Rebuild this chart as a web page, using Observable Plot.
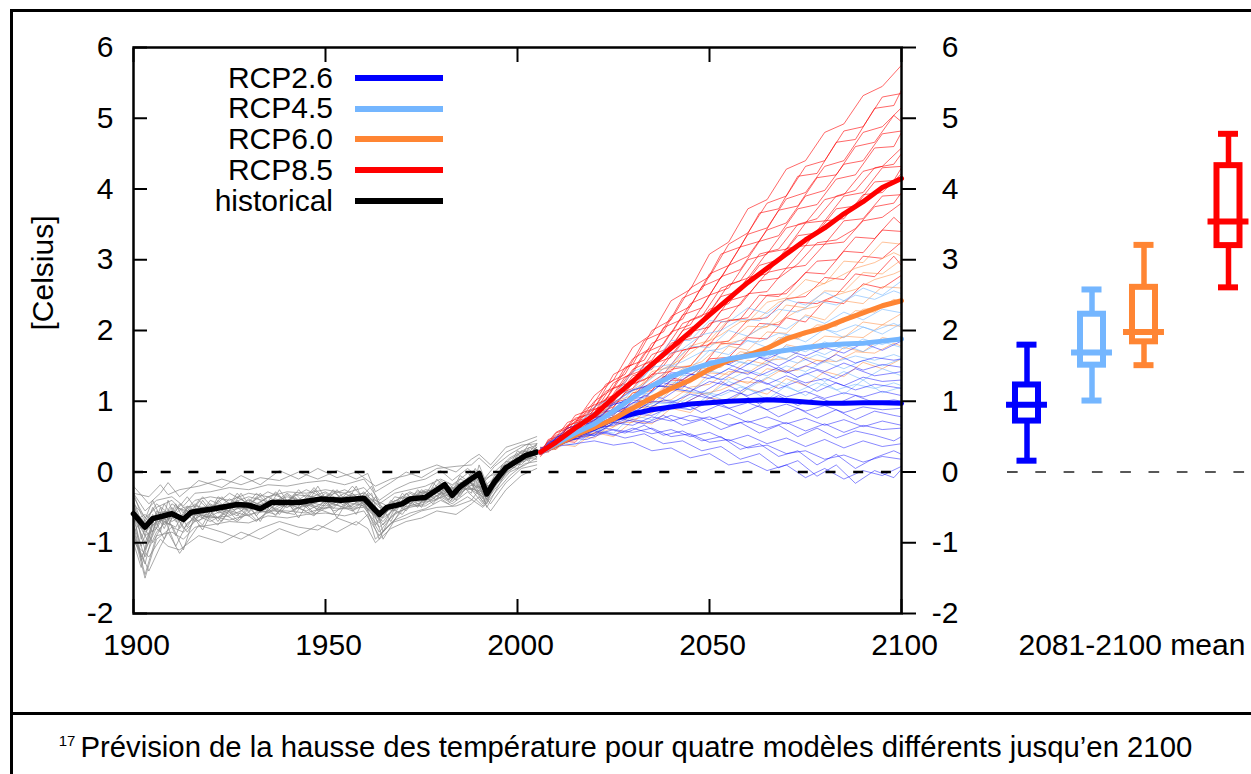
<!DOCTYPE html>
<html><head><meta charset="utf-8">
<script src="https://cdn.jsdelivr.net/npm/d3@7"></script>
<script src="https://cdn.jsdelivr.net/npm/@observablehq/plot@0.6"></script>
<style>
html,body{margin:0;padding:0;background:#fff;overflow:hidden;}
#wrap{position:relative;width:1251px;height:774px;overflow:hidden;font-family:"Liberation Sans",Arial,Helvetica,sans-serif;color:#000;}
#border{position:absolute;left:10px;top:9px;width:1400px;height:900px;border:3px solid #000;box-sizing:border-box;}
#divider{position:absolute;left:10px;top:712px;width:1400px;height:3px;background:#000;}
#left,#right{position:absolute;top:0;}
#left{left:0;width:965px;} #right{left:965px;width:320px;}
#left svg,#right svg{max-width:none;}
#legend{position:absolute;left:0;top:62.6px;}
.row{display:flex;align-items:center;height:30.75px;}
.lab{width:333px;text-align:right;font-size:30px;line-height:30.75px;white-space:nowrap;}
.sw{margin-left:22px;width:88px;height:6px;}
#caption{position:absolute;left:0;top:732px;width:1251px;text-align:center;font-size:29.3px;line-height:29px;white-space:nowrap;}
#caption sup{font-size:15px;vertical-align:baseline;position:relative;top:-11px;margin-right:5px;}
</style></head>
<body>
<div id="wrap">
  <div id="border"></div>
  <div id="divider"></div>
  <div id="left"></div>
  <div id="right"></div>
  <div id="legend"></div>
  <div id="caption"><sup>17</sup>Prévision de la hausse des température pour quatre modèles différents jusqu’en 2100</div>
</div>
<script>
// ---------- data ----------
const xTicks = [1900, 1950, 2000, 2050, 2100];
const yTicks = [-2, -1, 0, 1, 2, 3, 4, 5, 6];
const legendNames = ["RCP2.6", "RCP4.5", "RCP6.0", "RCP8.5", "historical"];
const scenarios = ["RCP2.6", "RCP4.5", "RCP6.0", "RCP8.5"];

// historical ensemble mean
const histMeanYears = [1900,1903,1905,1910,1913,1915,1921,1927,1930,1933,1936,1943,1949,1954,1960,1964,1966,1970,1972,1976,1981,1983,1985,1990,1992,1994,1997,2000,2002,2005];
const histMean = [-0.59,-0.78,-0.66,-0.59,-0.67,-0.57,-0.52,-0.46,-0.47,-0.52,-0.43,-0.43,-0.38,-0.40,-0.37,-0.60,-0.50,-0.45,-0.38,-0.36,-0.18,-0.33,-0.21,-0.02,-0.31,-0.14,0.06,0.16,0.23,0.28];

// historical members (three sampling grids)
const histYears = [1900,1903,1906,1910,1913,1916,1920,1925,1930,1935,1940,1945,1950,1955,1960,1964,1968,1972,1976,1980,1983,1987,1991,1994,1998,2002,2005];
const histMembers = [
  [-0.30,-0.55,-0.40,-0.35,-0.48,-0.30,-0.28,-0.22,-0.25,-0.18,-0.20,-0.15,-0.12,-0.18,-0.10,-0.40,-0.25,-0.15,-0.10,0.02,-0.12,0.05,-0.12,0.08,0.25,0.38,0.45],
  [-0.80,-1.45,-0.90,-0.85,-0.95,-0.78,-0.75,-0.70,-0.72,-0.62,-0.65,-0.60,-0.58,-0.62,-0.55,-0.90,-0.68,-0.58,-0.52,-0.40,-0.48,-0.35,-0.50,-0.30,-0.05,0.12,0.15],
  [-0.50,-1.10,-0.55,-0.70,-0.60,-0.45,-0.60,-0.38,-0.55,-0.35,-0.50,-0.32,-0.45,-0.30,-0.45,-0.72,-0.40,-0.45,-0.28,-0.30,-0.22,-0.25,-0.20,-0.18,0.15,0.20,0.32],
  [-0.70,-0.60,-0.75,-0.50,-0.80,-0.62,-0.45,-0.60,-0.38,-0.55,-0.32,-0.50,-0.30,-0.48,-0.28,-0.50,-0.55,-0.30,-0.42,-0.15,-0.38,-0.10,-0.38,-0.05,0.05,0.30,0.22],
  [-0.45,-0.90,-0.80,-0.45,-0.55,-0.70,-0.40,-0.52,-0.40,-0.50,-0.30,-0.48,-0.35,-0.25,-0.40,-0.65,-0.35,-0.40,-0.25,-0.28,-0.35,-0.08,-0.42,-0.15,0.12,0.15,0.35],
  [-0.95,-1.30,-0.65,-0.75,-1.10,-0.60,-0.70,-0.55,-0.62,-0.48,-0.58,-0.45,-0.52,-0.42,-0.48,-0.85,-0.58,-0.50,-0.45,-0.30,-0.42,-0.22,-0.35,-0.20,0.02,0.18,0.22],
  [-0.55,-0.70,-0.45,-0.62,-0.50,-0.48,-0.52,-0.30,-0.45,-0.28,-0.40,-0.25,-0.38,-0.35,-0.30,-0.55,-0.42,-0.28,-0.38,-0.12,-0.25,-0.18,-0.22,-0.08,0.18,0.30,0.25],
  [-0.62,-1.00,-0.58,-0.55,-0.72,-0.52,-0.48,-0.45,-0.35,-0.42,-0.50,-0.38,-0.28,-0.45,-0.35,-0.60,-0.48,-0.35,-0.30,-0.25,-0.30,-0.12,-0.28,-0.10,0.08,0.25,0.30],
  [-0.40,-0.85,-0.70,-0.65,-0.62,-0.55,-0.62,-0.50,-0.52,-0.45,-0.35,-0.42,-0.48,-0.38,-0.42,-0.68,-0.45,-0.42,-0.32,-0.20,-0.28,-0.20,-0.32,-0.12,0.12,0.22,0.40],
  [-0.75,-1.20,-0.85,-0.60,-0.68,-0.58,-0.65,-0.62,-0.50,-0.58,-0.45,-0.55,-0.42,-0.50,-0.40,-0.95,-0.52,-0.40,-0.38,-0.22,-0.40,-0.18,-0.45,-0.20,0.05,0.20,0.18],
  [-0.35,-0.65,-0.50,-0.40,-0.58,-0.40,-0.35,-0.40,-0.30,-0.35,-0.28,-0.30,-0.25,-0.30,-0.22,-0.45,-0.30,-0.25,-0.20,-0.10,-0.18,-0.02,-0.15,0.00,0.20,0.32,0.38],
  [-0.85,-1.50,-0.95,-0.78,-0.85,-0.70,-0.62,-0.68,-0.60,-0.55,-0.55,-0.58,-0.50,-0.52,-0.50,-0.78,-0.60,-0.48,-0.48,-0.35,-0.45,-0.28,-0.48,-0.25,0.00,0.10,0.20]
];
const histYearsB = [1900,1902,1905,1908,1911,1914,1918,1922,1927,1932,1937,1942,1947,1952,1957,1962,1965,1970,1974,1978,1982,1985,1989,1992,1996,2000,2003,2005];
const histMembersB = [
  [-0.40,-0.95,-0.50,-0.80,-0.45,-0.78,-0.40,-0.70,-0.30,-0.62,-0.28,-0.55,-0.22,-0.52,-0.20,-0.50,-0.75,-0.30,-0.50,-0.15,-0.40,-0.05,-0.20,-0.45,0.10,0.05,0.35,0.30],
  [-0.75,-1.20,-0.90,-0.55,-0.90,-0.50,-0.82,-0.40,-0.68,-0.35,-0.62,-0.30,-0.58,-0.25,-0.55,-0.30,-0.85,-0.55,-0.25,-0.45,-0.15,-0.35,0.00,-0.50,-0.10,0.25,0.15,0.40],
  [-0.55,-0.80,-0.40,-0.75,-0.55,-0.35,-0.65,-0.48,-0.62,-0.30,-0.55,-0.60,-0.25,-0.55,-0.48,-0.20,-0.60,-0.40,-0.48,-0.22,-0.35,-0.30,0.05,-0.25,-0.10,0.30,0.20,0.25],
  [-1.00,-1.35,-0.75,-0.65,-1.05,-0.72,-0.60,-0.75,-0.40,-0.68,-0.50,-0.35,-0.60,-0.45,-0.30,-0.58,-0.70,-0.35,-0.42,-0.38,-0.20,-0.30,-0.15,-0.35,0.08,0.12,0.32,0.20],
  [-0.30,-0.60,-0.85,-0.45,-0.70,-0.65,-0.35,-0.58,-0.52,-0.45,-0.30,-0.52,-0.45,-0.28,-0.50,-0.38,-0.45,-0.60,-0.30,-0.25,-0.40,-0.10,-0.18,-0.28,0.05,0.20,0.22,0.35],
  [-0.65,-1.05,-0.60,-0.95,-0.50,-0.55,-0.75,-0.35,-0.50,-0.70,-0.45,-0.40,-0.50,-0.60,-0.35,-0.48,-0.95,-0.50,-0.45,-0.40,-0.32,-0.25,-0.12,-0.40,-0.05,0.10,0.28,0.25],
  [-0.85,-0.70,-1.00,-0.70,-0.78,-0.48,-0.62,-0.65,-0.35,-0.52,-0.60,-0.32,-0.35,-0.45,-0.55,-0.40,-0.50,-0.35,-0.45,-0.35,-0.28,-0.15,-0.10,-0.38,0.02,0.15,0.40,0.30],
  [-0.50,-1.25,-0.70,-0.60,-0.62,-0.85,-0.50,-0.55,-0.70,-0.48,-0.38,-0.48,-0.62,-0.35,-0.40,-0.55,-0.65,-0.45,-0.28,-0.30,-0.45,-0.22,-0.25,-0.30,-0.02,0.18,0.18,0.32]
];
const histYearsC = [1900,1904,1907,1909,1912,1917,1923,1928,1933,1938,1943,1948,1953,1958,1961,1963,1967,1971,1975,1979,1984,1988,1990,1993,1997,2001,2005];
const histMembersC = [
  [-0.20,-0.45,-0.30,-0.15,-0.35,-0.12,-0.22,-0.05,-0.18,0.02,-0.10,0.05,-0.08,0.00,-0.12,-0.20,-0.10,-0.05,0.02,0.10,0.00,0.18,0.25,0.10,0.35,0.42,0.50],
  [-0.30,-0.35,-0.18,-0.32,-0.25,-0.20,-0.10,-0.18,-0.08,-0.12,0.00,-0.10,0.02,-0.10,-0.02,-0.28,-0.15,0.00,-0.08,0.05,0.08,0.10,0.20,0.05,0.28,0.38,0.40],
  [-1.00,-1.20,-0.95,-1.05,-1.10,-0.90,-1.00,-0.85,-0.95,-0.80,-0.90,-0.75,-0.85,-0.70,-0.80,-1.00,-0.80,-0.70,-0.65,-0.55,-0.60,-0.45,-0.35,-0.55,-0.25,-0.05,0.05],
  [-0.90,-1.40,-1.05,-0.85,-1.15,-0.75,-0.85,-0.95,-0.80,-0.70,-0.78,-0.82,-0.65,-0.75,-0.60,-0.95,-0.72,-0.65,-0.55,-0.50,-0.48,-0.40,-0.25,-0.45,-0.15,0.05,0.10],
  [-0.60,-1.00,-0.50,-0.75,-0.45,-0.70,-0.35,-0.65,-0.30,-0.60,-0.25,-0.55,-0.25,-0.60,-0.30,-0.75,-0.40,-0.55,-0.25,-0.40,-0.15,-0.30,0.10,-0.30,0.15,0.10,0.35],
  [-0.45,-0.70,-0.85,-0.40,-0.80,-0.40,-0.70,-0.30,-0.70,-0.25,-0.65,-0.20,-0.65,-0.20,-0.55,-0.35,-0.70,-0.30,-0.50,-0.10,-0.40,0.00,-0.15,-0.05,0.00,0.30,0.25]
];

// projection years (two sampling grids)
const rcpYears = [2006,2010,2015,2020,2025,2030,2035,2040,2045,2050,2055,2060,2065,2070,2075,2080,2085,2090,2095,2100];
const rcpYearsB = [2006,2008,2013,2018,2023,2028,2033,2038,2043,2048,2053,2058,2063,2068,2073,2078,2083,2088,2093,2098,2100];

// ensemble means
const rcp26Mean = [0.28,0.38,0.52,0.62,0.75,0.82,0.88,0.92,0.96,0.98,1.00,1.01,1.02,1.01,0.99,0.97,0.97,0.98,0.98,0.97];
const rcp45Mean = [0.28,0.40,0.55,0.68,0.86,1.05,1.22,1.35,1.45,1.53,1.60,1.64,1.68,1.72,1.76,1.79,1.81,1.82,1.85,1.88];
const rcp60Mean = [0.28,0.38,0.52,0.63,0.75,0.90,1.05,1.18,1.30,1.45,1.58,1.65,1.75,1.88,1.97,2.04,2.15,2.25,2.35,2.42];
const rcp85Mean = [0.28,0.42,0.62,0.80,1.05,1.28,1.52,1.75,1.98,2.22,2.45,2.68,2.88,3.08,3.28,3.45,3.65,3.82,4.02,4.15];

// ensemble members
const rcp26Members = [
  [0.30,0.36,0.40,0.44,0.38,0.42,0.30,0.34,0.20,0.26,0.10,0.15,0.02,0.10,-0.08,0.05,-0.10,0.02,-0.05,0.08],
  [0.26,0.42,0.46,0.58,0.52,0.62,0.54,0.60,0.50,0.56,0.44,0.52,0.40,0.48,0.36,0.46,0.34,0.44,0.36,0.40],
  [0.32,0.36,0.56,0.52,0.70,0.66,0.78,0.72,0.80,0.74,0.82,0.70,0.78,0.68,0.76,0.66,0.74,0.64,0.72,0.66],
  [0.28,0.44,0.50,0.66,0.70,0.82,0.80,0.92,0.88,0.98,0.90,0.98,0.88,0.96,0.86,0.94,0.84,0.92,0.88,0.90],
  [0.30,0.40,0.60,0.64,0.86,0.84,1.00,0.98,1.10,1.04,1.16,1.08,1.18,1.06,1.14,1.04,1.12,1.06,1.14,1.08],
  [0.25,0.46,0.56,0.74,0.82,0.98,1.02,1.18,1.14,1.28,1.22,1.34,1.24,1.36,1.26,1.32,1.22,1.34,1.28,1.30],
  [0.34,0.38,0.66,0.70,0.96,1.02,1.22,1.20,1.38,1.32,1.46,1.38,1.52,1.40,1.50,1.42,1.54,1.44,1.52,1.48],
  [0.28,0.48,0.62,0.84,0.98,1.16,1.24,1.40,1.42,1.56,1.52,1.66,1.60,1.72,1.64,1.76,1.68,1.82,1.72,1.85],
  [0.30,0.40,0.50,0.52,0.60,0.56,0.62,0.50,0.54,0.42,0.46,0.34,0.38,0.26,0.30,0.18,0.24,0.14,0.22,0.18],
  [0.27,0.45,0.52,0.62,0.66,0.74,0.70,0.80,0.72,0.78,0.66,0.72,0.62,0.70,0.58,0.68,0.56,0.66,0.60,0.62]
];
const rcp26MembersB = [
  [0.30,0.38,0.44,0.50,0.62,0.55,0.66,0.52,0.58,0.44,0.50,0.32,0.40,0.22,0.30,0.10,0.25,0.05,0.20,0.30,0.25],
  [0.27,0.36,0.52,0.58,0.64,0.74,0.68,0.80,0.66,0.74,0.60,0.70,0.55,0.66,0.50,0.62,0.48,0.58,0.52,0.44,0.50],
  [0.32,0.30,0.55,0.62,0.78,0.74,0.94,0.86,0.98,0.84,0.96,0.82,0.94,0.78,0.90,0.76,0.88,0.74,0.86,0.80,0.78],
  [0.28,0.40,0.46,0.66,0.72,0.88,0.86,1.02,0.96,1.10,0.98,1.12,0.96,1.08,0.94,1.06,0.96,1.08,0.98,1.02,1.00],
  [0.30,0.34,0.58,0.64,0.86,0.90,1.08,1.04,1.22,1.12,1.28,1.14,1.30,1.18,1.28,1.14,1.26,1.16,1.24,1.20,1.18],
  [0.26,0.42,0.50,0.74,0.80,1.02,1.06,1.26,1.20,1.40,1.30,1.46,1.36,1.48,1.34,1.44,1.32,1.46,1.36,1.40,1.42],
  [0.30,0.36,0.48,0.46,0.56,0.48,0.54,0.40,0.44,0.30,0.36,0.18,0.26,0.06,0.16,-0.06,0.10,-0.16,0.02,-0.08,0.04],
  [0.32,0.38,0.62,0.70,0.92,1.00,1.20,1.22,1.40,1.36,1.56,1.46,1.62,1.50,1.64,1.52,1.66,1.54,1.62,1.58,1.60]
];
const rcp45Members = [
  [0.30,0.42,0.38,0.60,0.55,0.80,0.74,0.98,0.88,1.10,0.98,1.18,1.02,1.22,1.08,1.26,1.10,1.30,1.12,1.20],
  [0.26,0.45,0.46,0.66,0.70,0.94,0.96,1.18,1.14,1.34,1.30,1.44,1.36,1.50,1.42,1.56,1.46,1.58,1.50,1.60],
  [0.32,0.36,0.60,0.62,0.90,0.92,1.22,1.20,1.44,1.40,1.60,1.52,1.68,1.60,1.76,1.66,1.80,1.70,1.84,1.76],
  [0.28,0.48,0.52,0.78,0.86,1.16,1.22,1.50,1.46,1.72,1.66,1.86,1.76,1.94,1.84,2.02,1.90,2.05,1.95,2.10],
  [0.30,0.40,0.68,0.74,1.08,1.16,1.48,1.52,1.78,1.76,2.00,1.92,2.10,2.02,2.20,2.10,2.26,2.15,2.30,2.25],
  [0.27,0.50,0.62,0.92,1.06,1.42,1.52,1.86,1.86,2.14,2.12,2.32,2.24,2.44,2.36,2.54,2.42,2.60,2.50,2.70],
  [0.30,0.46,0.50,0.74,0.80,1.08,1.12,1.38,1.36,1.58,1.54,1.70,1.62,1.78,1.70,1.84,1.74,1.88,1.80,1.92],
  [0.34,0.34,0.54,0.52,0.76,0.76,0.98,0.96,1.14,1.10,1.28,1.18,1.34,1.24,1.40,1.28,1.42,1.30,1.46,1.36]
];
const rcp45MembersB = [
  [0.30,0.32,0.44,0.56,0.62,0.80,0.86,1.02,1.00,1.14,1.08,1.20,1.12,1.24,1.14,1.26,1.16,1.24,1.18,1.26,1.22],
  [0.28,0.40,0.46,0.66,0.76,0.98,1.04,1.28,1.26,1.44,1.40,1.56,1.50,1.62,1.54,1.66,1.56,1.64,1.58,1.66,1.62],
  [0.32,0.34,0.56,0.70,0.88,1.08,1.24,1.46,1.56,1.70,1.74,1.86,1.84,1.96,1.92,2.04,1.98,2.08,2.00,2.10,2.05],
  [0.26,0.42,0.54,0.78,0.94,1.20,1.36,1.64,1.74,1.94,2.00,2.16,2.14,2.30,2.26,2.42,2.36,2.50,2.44,2.56,2.52]
];
const rcp60Members = [
  [0.26,0.40,0.36,0.56,0.50,0.72,0.68,0.90,0.84,1.05,1.00,1.18,1.10,1.32,1.22,1.42,1.35,1.55,1.46,1.60],
  [0.30,0.32,0.52,0.48,0.70,0.70,0.94,0.90,1.12,1.10,1.34,1.25,1.46,1.42,1.62,1.55,1.76,1.70,1.90,1.85],
  [0.25,0.44,0.45,0.66,0.64,0.92,0.90,1.16,1.12,1.40,1.38,1.58,1.52,1.80,1.74,1.92,1.90,2.12,2.08,2.24],
  [0.32,0.36,0.60,0.62,0.88,0.90,1.20,1.22,1.48,1.50,1.78,1.72,1.98,1.96,2.22,2.15,2.42,2.38,2.62,2.60],
  [0.28,0.46,0.54,0.78,0.82,1.12,1.18,1.48,1.50,1.80,1.85,2.06,2.05,2.36,2.32,2.56,2.55,2.82,2.80,3.00],
  [0.30,0.38,0.68,0.72,1.00,1.08,1.42,1.48,1.78,1.86,2.16,2.12,2.40,2.46,2.72,2.66,2.98,2.96,3.25,3.22],
  [0.34,0.34,0.52,0.55,0.74,0.78,0.98,1.02,1.20,1.24,1.42,1.40,1.58,1.60,1.76,1.74,1.92,1.90,2.08,2.06],
  [0.27,0.42,0.48,0.68,0.72,0.96,1.00,1.24,1.26,1.50,1.54,1.70,1.72,1.92,1.94,2.08,2.12,2.30,2.32,2.45]
];
const rcp60MembersB = [
  [0.30,0.30,0.44,0.52,0.58,0.72,0.78,0.92,0.96,1.10,1.16,1.28,1.26,1.42,1.44,1.58,1.56,1.70,1.68,1.82,1.78],
  [0.28,0.38,0.42,0.64,0.66,0.90,0.92,1.20,1.18,1.46,1.48,1.70,1.66,1.90,1.88,2.08,2.06,2.28,2.26,2.44,2.40],
  [0.30,0.34,0.54,0.66,0.84,0.94,1.20,1.26,1.46,1.56,1.80,1.86,2.02,2.12,2.28,2.34,2.50,2.58,2.72,2.80,2.85],
  [0.26,0.40,0.52,0.76,0.86,1.10,1.26,1.46,1.60,1.80,1.94,2.12,2.18,2.40,2.48,2.62,2.74,2.88,2.96,3.10,3.05]
];
const rcp85Members = [
  [0.30,0.45,0.42,0.70,0.72,1.02,0.98,1.30,1.28,1.60,1.62,1.90,1.88,2.18,2.12,2.42,2.38,2.66,2.60,2.78],
  [0.22,0.48,0.50,0.78,0.80,1.12,1.15,1.45,1.50,1.82,1.85,2.15,2.18,2.45,2.48,2.75,2.72,3.05,3.02,3.25],
  [0.35,0.32,0.62,0.66,0.98,1.05,1.38,1.42,1.75,1.80,2.14,2.18,2.50,2.52,2.82,2.80,3.12,3.10,3.42,3.40],
  [0.25,0.50,0.55,0.82,0.92,1.25,1.35,1.68,1.75,2.10,2.18,2.52,2.55,2.88,2.92,3.22,3.25,3.55,3.60,3.80],
  [0.32,0.38,0.68,0.72,1.08,1.18,1.52,1.62,1.98,2.05,2.42,2.50,2.82,2.88,3.20,3.22,3.55,3.58,3.90,3.92],
  [0.28,0.50,0.58,0.88,1.00,1.36,1.45,1.82,1.92,2.30,2.38,2.75,2.80,3.16,3.20,3.55,3.58,3.92,3.95,4.22],
  [0.30,0.40,0.72,0.78,1.18,1.28,1.66,1.76,2.15,2.26,2.65,2.74,3.10,3.15,3.52,3.55,3.90,3.95,4.30,4.32],
  [0.26,0.52,0.60,0.92,1.08,1.45,1.58,1.98,2.08,2.50,2.60,3.00,3.08,3.45,3.52,3.85,3.92,4.25,4.32,4.58],
  [0.34,0.42,0.76,0.84,1.26,1.40,1.82,1.95,2.38,2.50,2.92,3.05,3.42,3.52,3.90,3.98,4.35,4.40,4.78,4.82],
  [0.24,0.55,0.66,1.00,1.18,1.60,1.76,2.20,2.34,2.80,2.92,3.36,3.45,3.86,3.95,4.32,4.40,4.80,4.88,5.15],
  [0.32,0.40,0.80,0.90,1.38,1.52,2.00,2.15,2.60,2.76,3.22,3.38,3.80,3.90,4.32,4.40,4.82,4.88,5.30,5.35],
  [0.30,0.56,0.70,1.08,1.30,1.76,1.95,2.42,2.58,3.08,3.25,3.72,3.85,4.28,4.40,4.80,4.92,5.32,5.45,5.75]
];
const rcp85MembersB = [
  [0.28,0.40,0.42,0.55,0.85,0.88,1.02,1.35,1.30,1.48,1.82,1.80,2.10,2.08,2.40,2.38,2.50,2.80,2.76,3.05,2.92],
  [0.30,0.28,0.55,0.70,0.78,1.12,1.20,1.38,1.72,1.78,2.12,2.16,2.50,2.48,2.70,2.98,3.00,3.32,3.30,3.60,3.50],
  [0.26,0.42,0.48,0.76,0.86,1.20,1.30,1.50,1.86,1.92,2.28,2.36,2.70,2.74,2.94,3.24,3.28,3.44,3.75,3.80,3.95],
  [0.30,0.30,0.62,0.70,1.04,1.15,1.52,1.62,2.00,2.10,2.48,2.56,2.92,3.00,3.34,3.38,3.72,3.76,4.10,4.12,4.30],
  [0.28,0.44,0.50,0.84,0.95,1.34,1.45,1.70,2.10,2.20,2.60,2.70,3.08,3.15,3.50,3.58,3.90,3.98,4.30,4.35,4.50],
  [0.32,0.30,0.66,0.74,1.14,1.26,1.68,1.80,2.22,2.32,2.76,2.86,3.26,3.34,3.72,3.78,4.14,4.20,4.58,4.60,4.80],
  [0.26,0.46,0.54,0.90,1.02,1.48,1.58,2.04,2.16,2.62,2.74,3.18,3.26,3.70,3.76,4.16,4.20,4.60,4.66,5.04,4.95],
  [0.30,0.34,0.70,0.80,1.24,1.38,1.86,1.98,2.46,2.58,3.08,3.18,3.66,3.72,4.18,4.22,4.66,4.70,5.14,5.18,5.40]
];

// 2081-2100 mean box plots
const boxSlot   = [1, 2, 2.8, 4.1];
const boxLow    = [0.16, 1.01, 1.51, 2.61];
const boxQ1     = [0.72, 1.51, 1.84, 3.20];
const boxMedian = [0.95, 1.69, 1.98, 3.54];
const boxQ3     = [1.23, 2.23, 2.61, 4.33];
const boxHigh   = [1.80, 2.58, 3.21, 4.78];

// ---------- styles ----------
const colorOf = {"RCP2.6": "#0000ff", "RCP4.5": "#74b6ff", "RCP6.0": "#ff8533", "RCP8.5": "#ff0000", "historical": "#000000"};
const FONT = '"Liberation Sans", Arial, Helvetica, sans-serif';

// ---------- tables ----------
const memberTable = (members, years, tag) =>
  members.flatMap((vals, m) => vals.map((v, i) => ({year: years[i], value: v, id: tag + m})));
const seriesTable = (vals, years) => vals.map((v, i) => ({year: years[i], value: v}));

const histT = memberTable(histMembers, histYears, "h")
  .concat(memberTable(histMembersB, histYearsB, "hb"))
  .concat(memberTable(histMembersC, histYearsC, "hc"));
const r26T = memberTable(rcp26Members, rcpYears, "a").concat(memberTable(rcp26MembersB, rcpYearsB, "ab"));
const r45T = memberTable(rcp45Members, rcpYears, "b").concat(memberTable(rcp45MembersB, rcpYearsB, "bb"));
const r60T = memberTable(rcp60Members, rcpYears, "c").concat(memberTable(rcp60MembersB, rcpYearsB, "cb"));
const r85T = memberTable(rcp85Members, rcpYears, "d").concat(memberTable(rcp85MembersB, rcpYearsB, "db"));

const boxes = scenarios.map((s, i) => ({
  name: s, slot: boxSlot[i], low: boxLow[i], q1: boxQ1[i], median: boxMedian[i],
  q3: boxQ3[i], high: boxHigh[i], color: colorOf[s]
}));

const thin = 0.85;
const fmt = d => String(d);
const left = Plot.plot({
  width: 965, height: 680,
  marginTop: 47, marginBottom: 67, marginLeft: 133, marginRight: 64,
  x: {domain: [1900, 2100]},
  y: {domain: [-2, 6]},
  style: {fontFamily: FONT, fontSize: "30px", color: "#000", background: "transparent", overflow: "visible"},
  marks: [
    Plot.line(histT, {x: "year", y: "value", z: "id", stroke: "#888888", strokeWidth: thin, strokeOpacity: 0.85}),
    Plot.line(r85T, {x: "year", y: "value", z: "id", stroke: colorOf["RCP8.5"], strokeWidth: thin, strokeOpacity: 0.7}),
    Plot.line(r60T, {x: "year", y: "value", z: "id", stroke: colorOf["RCP6.0"], strokeWidth: thin, strokeOpacity: 0.6}),
    Plot.line(r45T, {x: "year", y: "value", z: "id", stroke: colorOf["RCP4.5"], strokeWidth: thin, strokeOpacity: 0.7}),
    Plot.line(r26T, {x: "year", y: "value", z: "id", stroke: colorOf["RCP2.6"], strokeWidth: thin, strokeOpacity: 0.55}),
    Plot.ruleY([0], {stroke: "#000", strokeWidth: 2.5, strokeDasharray: "10,17.7"}),
    Plot.line(seriesTable(histMean, histMeanYears), {x: "year", y: "value", stroke: colorOf.historical, strokeWidth: 5.5}),
    Plot.line(seriesTable(rcp26Mean, rcpYears), {x: "year", y: "value", stroke: colorOf["RCP2.6"], strokeWidth: 5}),
    Plot.line(seriesTable(rcp60Mean, rcpYears), {x: "year", y: "value", stroke: colorOf["RCP6.0"], strokeWidth: 5}),
    Plot.line(seriesTable(rcp45Mean, rcpYears), {x: "year", y: "value", stroke: colorOf["RCP4.5"], strokeWidth: 5}),
    Plot.line(seriesTable(rcp85Mean, rcpYears), {x: "year", y: "value", stroke: colorOf["RCP8.5"], strokeWidth: 5}),
    Plot.axisY(yTicks, {anchor: "left", tickSize: 0, tickPadding: 20, tickFormat: fmt, label: null}),
    Plot.axisY(yTicks, {anchor: "left", tickSize: 14, dx: 14, tickFormat: () => "", label: null, strokeWidth: 2}),
    Plot.axisY(yTicks, {anchor: "right", tickSize: 14, tickPadding: 43, textAnchor: "end", tickFormat: fmt, label: null, strokeWidth: 2}),
    Plot.axisX(xTicks, {anchor: "top", tickSize: 14, dy: 14, tickFormat: () => "", label: null, strokeWidth: 2}),
    Plot.axisX(xTicks, {anchor: "bottom", tickSize: 14, dy: -14, tickFormat: () => "", label: null, strokeWidth: 2}),
    Plot.axisX(xTicks, {anchor: "bottom", tickSize: 0, tickPadding: 20, dx: 3, tickFormat: fmt, label: null}),
    Plot.text(["[Celsius]"], {frameAnchor: "left", dx: -90, rotate: -90}),
    Plot.frame({stroke: "#000", strokeWidth: 2.5})
  ]
});
document.getElementById("left").append(left);

const right = Plot.plot({
  width: 320, height: 680,
  marginTop: 47, marginBottom: 67, marginLeft: 42, marginRight: 0,
  x: {domain: [0.7, 4.977], axis: null},
  y: {domain: [-2, 6], axis: null},
  color: {type: "identity"},
  style: {fontFamily: FONT, fontSize: "30px", color: "#000", background: "transparent", overflow: "visible"},
  marks: [
    Plot.ruleY([0], {stroke: "#222", strokeWidth: 1.6, strokeDasharray: "10.7,17.6"}),
    Plot.ruleX(boxes, {x: "slot", y1: "low", y2: "q1", stroke: "color", strokeWidth: 5.5}),
    Plot.ruleX(boxes, {x: "slot", y1: "q3", y2: "high", stroke: "color", strokeWidth: 5.5}),
    Plot.rect(boxes, {x1: d => d.slot - 0.177, x2: d => d.slot + 0.177, y1: "q1", y2: "q3", fill: "none", stroke: "color", strokeWidth: 6}),
    Plot.ruleY(boxes, {y: "median", x1: d => d.slot - 0.315, x2: d => d.slot + 0.315, stroke: "color", strokeWidth: 6}),
    Plot.ruleY(boxes, {y: "low", x1: d => d.slot - 0.154, x2: d => d.slot + 0.154, stroke: "color", strokeWidth: 6}),
    Plot.ruleY(boxes, {y: "high", x1: d => d.slot - 0.154, x2: d => d.slot + 0.154, stroke: "color", strokeWidth: 6}),
    Plot.text(["2081-2100 mean"], {frameAnchor: "bottom-left", lineAnchor: "top", textAnchor: "start", dx: 11, dy: 20})
  ]
});
document.getElementById("right").append(right);

// legend (HTML overlay inside the plot frame)
const legend = document.getElementById("legend");
legendNames.forEach(n => {
  const row = document.createElement("div");
  row.className = "row";
  const lab = document.createElement("div");
  lab.className = "lab";
  lab.textContent = n;
  const sw = document.createElement("div");
  sw.className = "sw";
  sw.style.background = colorOf[n];
  row.append(lab, sw);
  legend.append(row);
});
</script>
</body></html>
